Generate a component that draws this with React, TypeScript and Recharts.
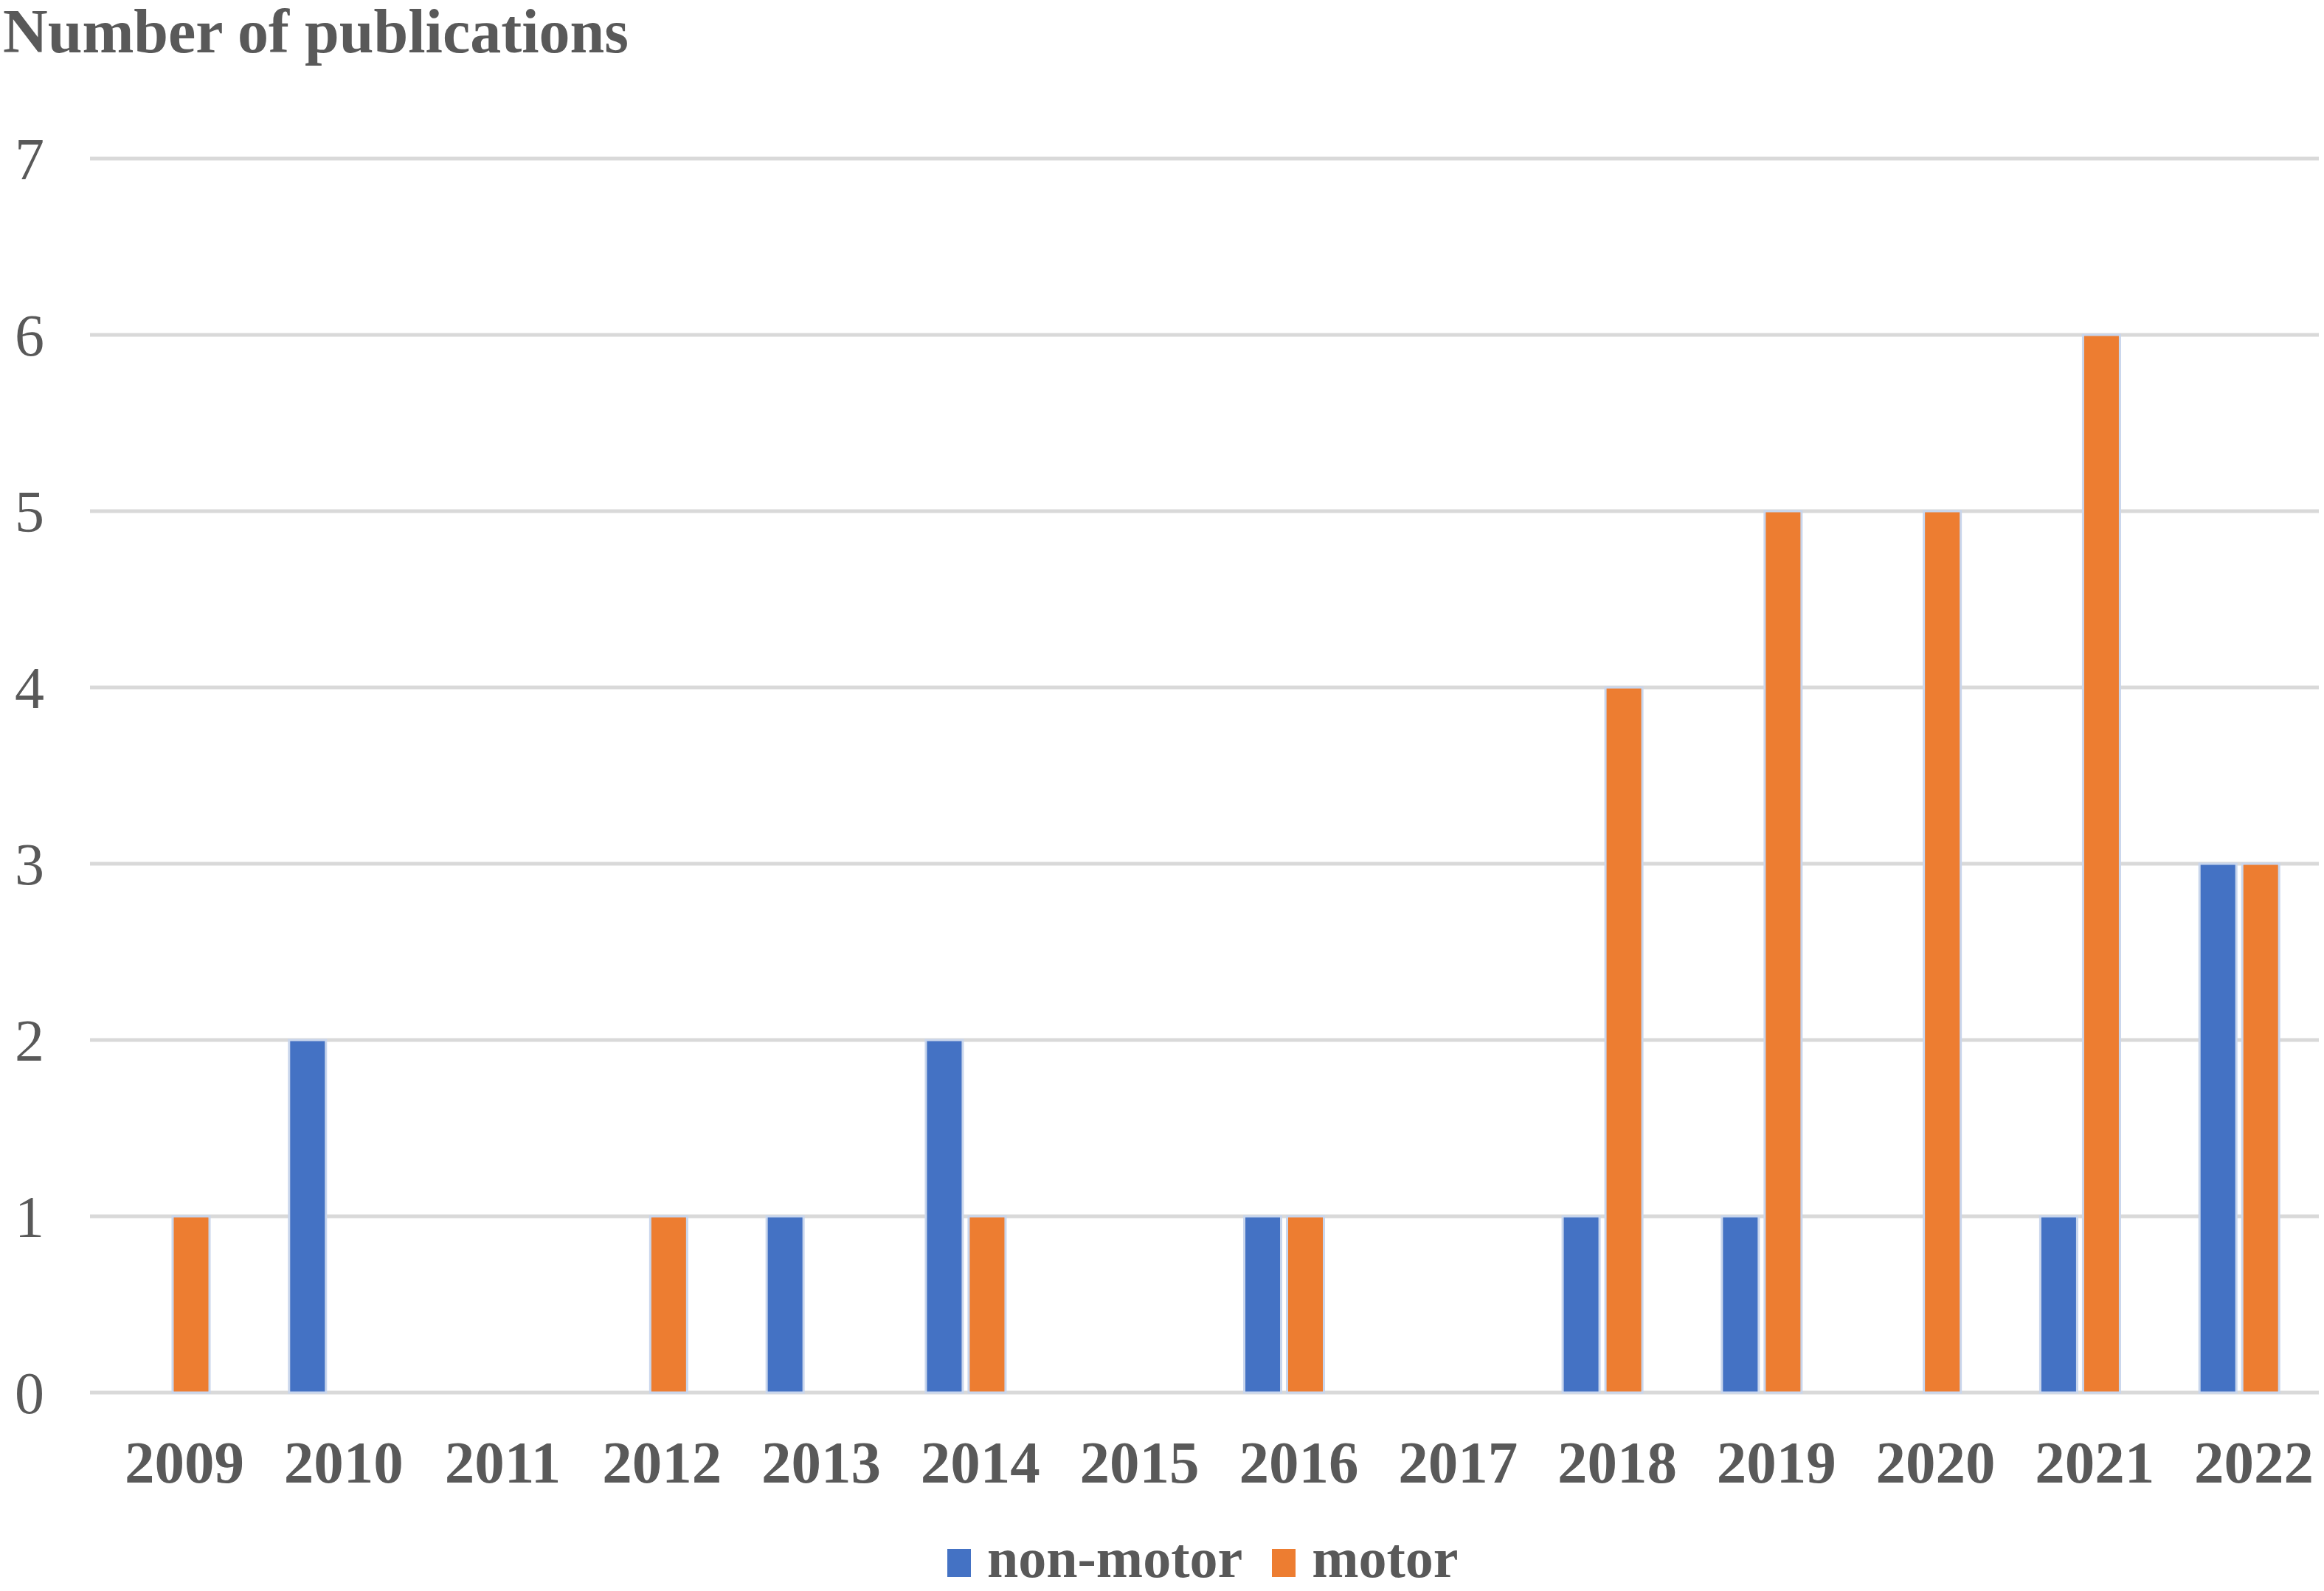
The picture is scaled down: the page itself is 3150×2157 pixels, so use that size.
import { BarChart, Bar, XAxis, YAxis, CartesianGrid, Legend } from 'recharts';

const years = ['2009', '2010', '2011', '2012', '2013', '2014', '2015', '2016', '2017', '2018', '2019', '2020', '2021', '2022'];
const nonMotor = [0, 2, 0, 0, 1, 2, 0, 1, 0, 1, 1, 0, 1, 3];
const motor = [1, 0, 0, 1, 0, 1, 0, 1, 0, 4, 5, 5, 6, 3];
const yTicks = [0, 1, 2, 3, 4, 5, 6, 7];

const data = years.map((year, i) => ({ year, nonMotor: nonMotor[i], motor: motor[i] }));

const FONT = '"Liberation Serif", "Times New Roman", serif';
const TEXT = '#595959';
const BLUE = '#4472C4';
const ORANGE = '#ED7D31';

function LegendBox() {
  const items = [
    { label: 'non-motor', color: BLUE },
    { label: 'motor', color: ORANGE },
  ];
  return (
    <div
      style={{
        height: 90,
        boxSizing: 'border-box',
        paddingTop: 3,
        paddingLeft: 1284,
        display: 'flex',
        alignItems: 'baseline',
        fontFamily: FONT,
        fontWeight: 'bold',
        fontSize: 76,
        lineHeight: '84px',
        color: TEXT,
      }}
    >
      {items.map((it) => (
        <div key={it.label} style={{ display: 'flex', alignItems: 'baseline', marginRight: 40 }}>
          <div style={{ width: 32, height: 38, background: it.color, marginRight: 22 }} />
          <span>{it.label}</span>
        </div>
      ))}
    </div>
  );
}

export default function App() {
  return (
    <div style={{ position: 'absolute', left: 0, top: 0, width: 3150, height: 2157, background: '#fff' }}>
      {/* Axis title */}
      <div
        style={{
          position: 'absolute',
          left: 4,
          top: 0,
          fontFamily: FONT,
          fontWeight: 'bold',
          fontSize: 84,
          lineHeight: '86px',
          color: TEXT,
        }}
      >
        Number of publications
      </div>

      <BarChart
        width={3150}
        height={2157}
        data={data}
        margin={{ top: 215, right: 7, left: 0, bottom: 0 }}
        barSize={50}
        barGap={8}
      >
        <CartesianGrid vertical={false} stroke="#d9d9d9" strokeWidth={5} />
        <XAxis
          dataKey="year"
          axisLine={false}
          tickLine={false}
          tickSize={0}
          tickMargin={64}
          height={179}
          tick={{ fill: TEXT, fontSize: 81, fontWeight: 'bold', fontFamily: FONT, dx: 20 }}
        />
        <YAxis
          domain={[0, 7]}
          ticks={yTicks}
          axisLine={false}
          tickLine={false}
          tickSize={0}
          tickMargin={62}
          width={122}
          tick={{ fill: TEXT, fontSize: 80, fontFamily: FONT }}
        />
        <Legend
          verticalAlign="bottom"
          height={90}
          wrapperStyle={{ left: 0, width: 3150 }}
          content={() => <LegendBox />}
        />
        <Bar dataKey="nonMotor" name="non-motor" fill={BLUE} stroke="#c9d6ec" strokeWidth={3} isAnimationActive={false} />
        <Bar dataKey="motor" name="motor" fill={ORANGE} stroke="#c9d6ec" strokeWidth={3} isAnimationActive={false} />
      </BarChart>
    </div>
  );
}
